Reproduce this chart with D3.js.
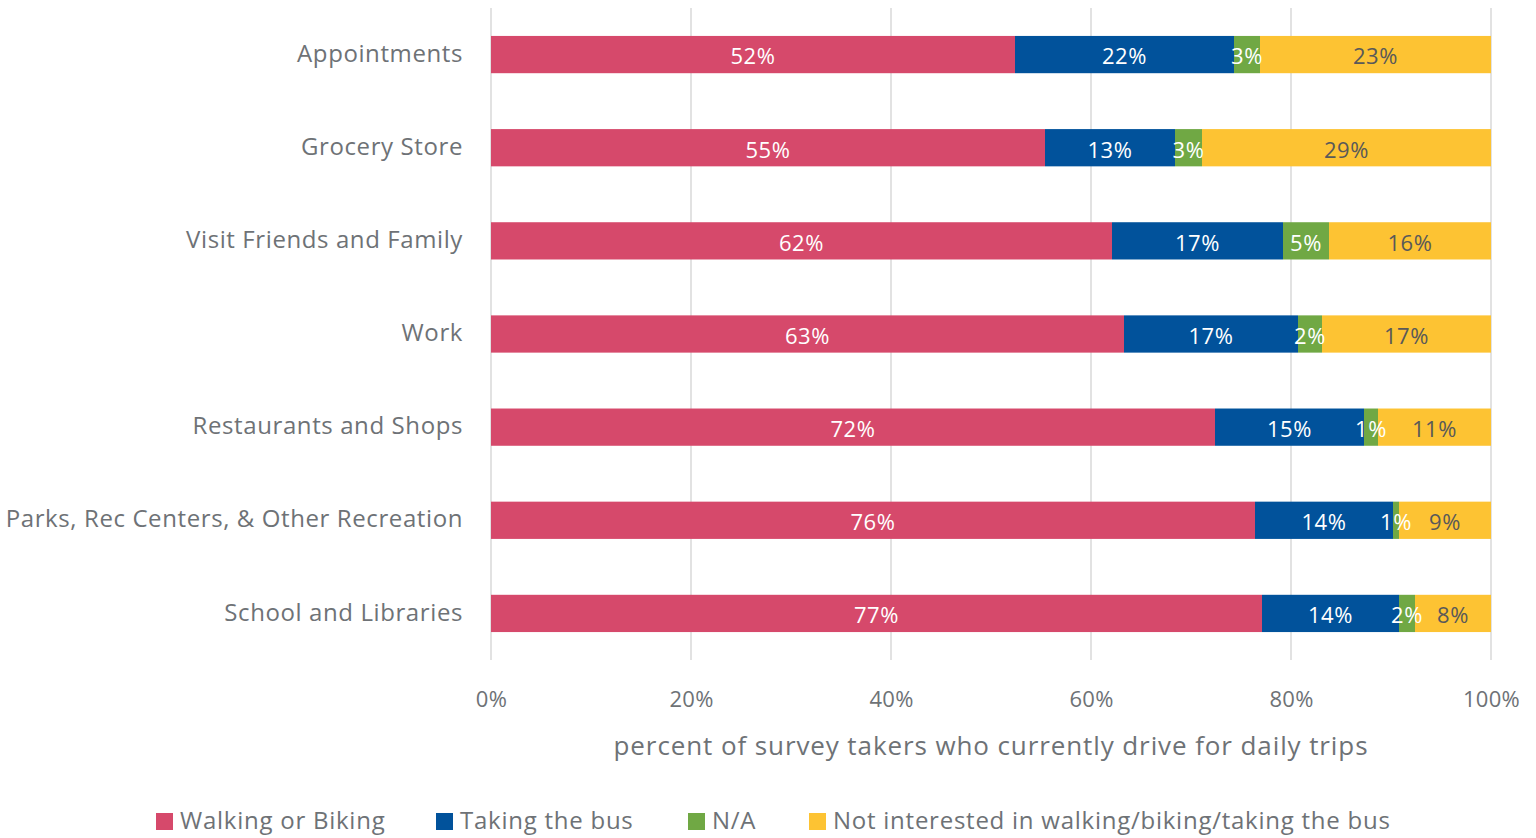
<!DOCTYPE html>
<html>
<head>
<meta charset="utf-8">
<script src="https://cdn.jsdelivr.net/npm/d3@7"></script>
<style>
  html, body { margin: 0; padding: 0; background: #fff; }
  svg { display: block; font-family: "Open Sans", sans-serif; }
</style>
</head>
<body>
<svg id="chart" width="1536" height="838"></svg>
<script>
// Trip purposes, top to bottom
const categories = [
  "Appointments",
  "Grocery Store",
  "Visit Friends and Family",
  "Work",
  "Restaurants and Shops",
  "Parks, Rec Centers, & Other Recreation",
  "School and Libraries"
];

// Share of respondents (percent) for each answer
const walkingBiking = [52.4, 55.4, 62.1, 63.3, 72.4, 76.4, 77.1];
const takingBus     = [21.9, 13.0, 17.1, 17.4, 14.9, 13.8, 13.7];
const notApplicable = [2.6, 2.7, 4.6, 2.4, 1.4, 0.6, 1.6];
const notInterested = [23.1, 28.9, 16.2, 16.9, 11.3, 9.2, 7.6];

const seriesNames = ["Walking or Biking", "Taking the bus", "N/A", "Not interested in walking/biking/taking the bus"];
const seriesColors = ["#d6496b", "#01529b", "#70a844", "#fdc333"];
const labelColors = ["#ffffff", "#ffffff", "#ffffff", "#595959"];

const xTicks = [0, 20, 40, 60, 80, 100];
const xTitle = "percent of survey takers who currently drive for daily trips";

const keys = ["walk", "bus", "na", "no"];
const rows = categories.map((c, i) => ({
  category: c,
  walk: walkingBiking[i],
  bus: takingBus[i],
  na: notApplicable[i],
  no: notInterested[i]
}));

const svg = d3.select("#chart");
const textGrey = "#6e7276";

const x = d3.scaleLinear().domain([0, 100]).range([491, 1491]);
const y = d3.scaleBand().domain(categories).range([8, 660]).paddingInner(0.6).paddingOuter(0.3);

// Vertical gridlines
svg.append("g")
  .selectAll("line")
  .data(xTicks)
  .join("line")
  .attr("x1", d => x(d)).attr("x2", d => x(d))
  .attr("y1", 8).attr("y2", 660)
  .attr("stroke", "#d9d9d9")
  .attr("stroke-width", 1.5);

// Stacked bars
const stacked = d3.stack().keys(keys)(rows);

const layers = svg.append("g")
  .selectAll("g")
  .data(stacked)
  .join("g")
  .attr("fill", (d, i) => seriesColors[i]);

layers.selectAll("rect")
  .data(d => d)
  .join("rect")
  .attr("x", d => x(d[0]))
  .attr("width", d => x(d[1]) - x(d[0]))
  .attr("y", d => y(d.data.category))
  .attr("height", y.bandwidth());

// Segment value labels
const labelLayers = svg.append("g")
  .selectAll("g")
  .data(stacked)
  .join("g")
  .attr("fill", (d, i) => labelColors[i]);

labelLayers.selectAll("text")
  .data(d => d)
  .join("text")
  .attr("x", d => (x(d[0]) + x(d[1])) / 2)
  .attr("y", d => y(d.data.category) + y.bandwidth() / 2 + 2)
  .attr("dy", "0.36em")
  .attr("text-anchor", "middle")
  .attr("font-size", 22)
  .attr("letter-spacing", 0.6)
  .text(d => Math.round(d[1] - d[0]) + "%");

// Category axis
const yAxis = svg.append("g")
  .attr("transform", `translate(${x(0)},0)`)
  .call(d3.axisLeft(y).tickSize(0).tickPadding(28));
yAxis.select(".domain").remove();
yAxis.selectAll("text")
  .attr("font-family", "'Open Sans', sans-serif")
  .attr("font-size", 24)
  .attr("letter-spacing", 0.6)
  .attr("fill", textGrey)
  .attr("dy", "0.3em");

// Percent axis
const xAxis = svg.append("g")
  .attr("transform", "translate(0,660)")
  .call(d3.axisBottom(x).tickValues(xTicks).tickSize(0).tickPadding(31).tickFormat(d => d + "%"));
xAxis.select(".domain").remove();
xAxis.selectAll("text")
  .attr("font-family", "'Open Sans', sans-serif")
  .attr("font-size", 22)
  .attr("letter-spacing", 0.3)
  .attr("fill", textGrey);

// Axis title
svg.append("text")
  .attr("x", 991)
  .attr("y", 755)
  .attr("text-anchor", "middle")
  .attr("font-size", 26)
  .attr("letter-spacing", 0.9)
  .attr("fill", textGrey)
  .text(xTitle);

// Legend
const legendX = [156, 436, 688, 809];
const legend = svg.append("g")
  .selectAll("g")
  .data(seriesNames)
  .join("g")
  .attr("transform", (d, i) => `translate(${legendX[i]},813)`);
legend.append("rect")
  .attr("width", 17).attr("height", 17)
  .attr("fill", (d, i) => seriesColors[i]);
legend.append("text")
  .attr("x", 24)
  .attr("y", 16)
  .attr("font-size", 24)
  .attr("letter-spacing", 0.75)
  .attr("fill", textGrey)
  .text(d => d);
</script>
</body>
</html>
